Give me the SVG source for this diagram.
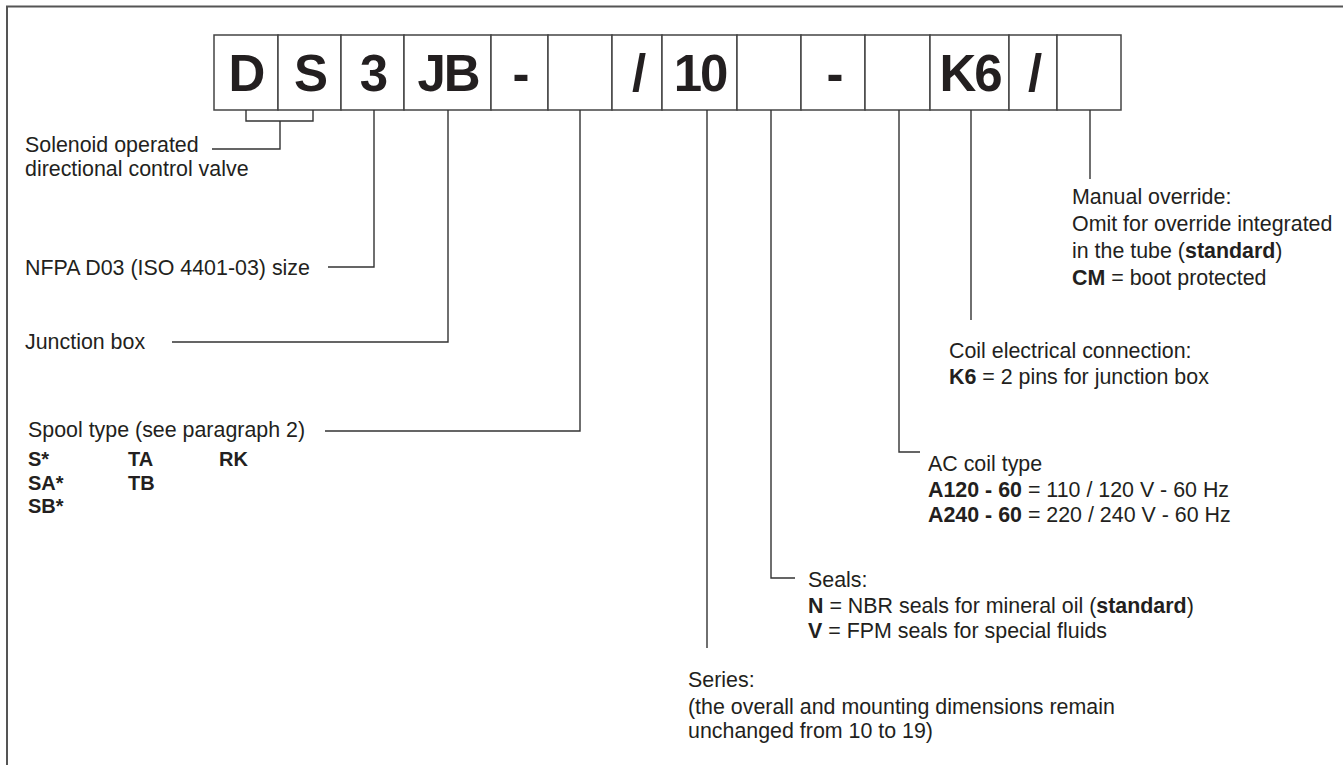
<svg xmlns="http://www.w3.org/2000/svg" width="1343" height="765" viewBox="0 0 1343 765">
<style>
.box{fill:#fff;stroke:#444;stroke-width:1.5}
.code{font-family:"Liberation Sans",Arial,sans-serif;font-weight:bold;font-size:51px;fill:#231f20;text-anchor:middle;letter-spacing:-2px}
.t{font-family:"Liberation Sans",Arial,sans-serif;font-size:21.4px;fill:#231f20}
.b{font-weight:bold}
.bl{font-family:"Liberation Sans",Arial,sans-serif;font-size:20px;font-weight:bold;fill:#231f20}
.con{fill:none;stroke:#333;stroke-width:1.4}
</style>
<rect width="1343" height="765" fill="#fff"/>
<path d="M7,765 V6.5 H1343" fill="none" stroke="#555" stroke-width="2"/>

<g id="boxes">
<g id="box-D"><rect class="box" x="214" y="35" width="64" height="75"/><text class="code" x="246" y="91">D</text></g>
<g id="box-S"><rect class="box" x="278" y="35" width="63" height="75"/><text class="code" x="310" y="91">S</text></g>
<g id="box-3"><rect class="box" x="341" y="35" width="63" height="75"/><text class="code" x="373" y="91">3</text></g>
<g id="box-JB"><rect class="box" x="404" y="35" width="87" height="75"/><text class="code" x="448" y="91">JB</text></g>
<g id="box-dash1"><rect class="box" x="491" y="35" width="57" height="75"/><text class="code" x="520" y="91">-</text></g>
<g id="box-spool"><rect class="box" x="548" y="35" width="64" height="75"/></g>
<g id="box-slash1"><rect class="box" x="612" y="35" width="50" height="75"/><text class="code" x="638" y="91">/</text></g>
<g id="box-10"><rect class="box" x="662" y="35" width="75" height="75"/><text class="code" x="700" y="91">10</text></g>
<g id="box-seals"><rect class="box" x="737" y="35" width="64" height="75"/></g>
<g id="box-dash2"><rect class="box" x="801" y="35" width="64" height="75"/><text class="code" x="834" y="91">-</text></g>
<g id="box-coil"><rect class="box" x="865" y="35" width="65" height="75"/></g>
<g id="box-K6"><rect class="box" x="930" y="35" width="79" height="75"/><text class="code" x="970" y="91">K6</text></g>
<g id="box-slash2"><rect class="box" x="1009" y="35" width="48" height="75"/><text class="code" x="1034" y="91">/</text></g>
<g id="box-override"><rect class="box" x="1057" y="35" width="64" height="75"/></g>
</g>

<g id="connectors">
<path class="con" d="M246,110 V121 H313 V110"/>
<path class="con" d="M280,121 V149 H212"/>
<path class="con" d="M374,110 V267 H328"/>
<path class="con" d="M448,110 V342 H172"/>
<path class="con" d="M580,110 V431 H325"/>
<path class="con" d="M707,110 V648"/>
<path class="con" d="M771,110 V578 H795"/>
<path class="con" d="M899,110 V452 H920"/>
<path class="con" d="M971,110 V320"/>
<path class="con" d="M1090,110 V179"/>
</g>

<g id="label-valve">
<text class="t" x="25" y="152">Solenoid operated</text>
<text class="t" x="25" y="176">directional control valve</text>
</g>
<g id="label-size"><text class="t" x="25" y="275">NFPA D03 (ISO 4401-03) size</text></g>
<g id="label-junction"><text class="t" x="25" y="349">Junction box</text></g>
<g id="label-spool">
<text class="t" x="28" y="437">Spool type (see paragraph 2)</text>
<text class="bl" x="28" y="466">S*</text><text class="bl" x="128" y="466">TA</text><text class="bl" x="219" y="466">RK</text>
<text class="bl" x="28" y="490">SA*</text><text class="bl" x="128" y="490">TB</text>
<text class="bl" x="28" y="513">SB*</text>
</g>
<g id="label-override">
<text class="t" x="1072" y="204">Manual override:</text>
<text class="t" x="1072" y="231">Omit for override integrated</text>
<text class="t" x="1072" y="258">in the tube (<tspan class="b">standard</tspan>)</text>
<text class="t" x="1072" y="285"><tspan class="b">CM</tspan> = boot protected</text>
</g>
<g id="label-coil-conn">
<text class="t" x="949" y="358">Coil electrical connection:</text>
<text class="t" x="949" y="384"><tspan class="b">K6</tspan> = 2 pins for junction box</text>
</g>
<g id="label-ac">
<text class="t" x="928" y="471">AC coil type</text>
<text class="t" x="928" y="497"><tspan class="b">A120 - 60</tspan> = 110 / 120 V - 60 Hz</text>
<text class="t" x="928" y="522"><tspan class="b">A240 - 60</tspan> = 220 / 240 V - 60 Hz</text>
</g>
<g id="label-seals">
<text class="t" x="808" y="587">Seals:</text>
<text class="t" x="808" y="613"><tspan class="b">N</tspan> = NBR seals for mineral oil (<tspan class="b">standard</tspan>)</text>
<text class="t" x="808" y="638"><tspan class="b">V</tspan> = FPM seals for special fluids</text>
</g>
<g id="label-series">
<text class="t" x="688" y="687">Series:</text>
<text class="t" x="688" y="714">(the overall and mounting dimensions remain</text>
<text class="t" x="688" y="738">unchanged from 10 to 19)</text>
</g>
</svg>
